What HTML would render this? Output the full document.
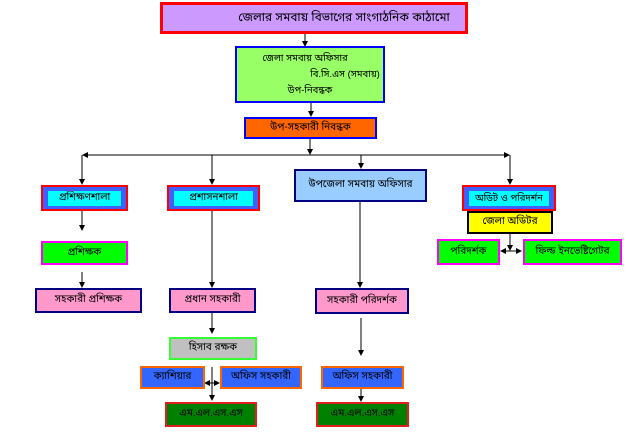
<!DOCTYPE html>
<html><head><meta charset="utf-8"><style>
body{margin:0;width:640px;height:448px;background:#fff;position:relative;overflow:hidden;font-family:"Liberation Sans","Noto Sans Bengali","Lohit Bengali",sans-serif;}
.b{position:absolute;box-sizing:border-box;display:flex;align-items:center;justify-content:center;font-size:10px;font-weight:bold;color:#000;white-space:nowrap;}
.dbl{background:#3f5fff;border:2px solid #ff0000;}
.dbl span{background:#00ffff;padding:1px 2px;display:block;width:calc(100% - 10px);text-align:center;box-sizing:border-box;overflow:hidden;}
svg{position:absolute;left:0;top:0;}
</style></head><body>
<svg width="640" height="448" viewBox="0 0 640 448">
<defs><marker id="a" markerWidth="6" markerHeight="6" refX="5" refY="3" orient="auto"><path d="M0,0L6,3L0,6z" fill="#000"/></marker></defs>
<g stroke="#000" stroke-width="1" fill="none">
<line x1="305" y1="34" x2="305" y2="46" marker-end="url(#a)"/>
<line x1="311" y1="103" x2="311" y2="116" marker-end="url(#a)"/>
<line x1="310" y1="139" x2="310" y2="154" marker-end="url(#a)"/>
<line x1="310" y1="155" x2="83" y2="155" marker-end="url(#a)"/>
<line x1="310" y1="155" x2="509" y2="155" marker-end="url(#a)"/>
<line x1="82" y1="155" x2="82" y2="184" marker-end="url(#a)"/>
<line x1="212" y1="155" x2="212" y2="184" marker-end="url(#a)"/>
<line x1="361" y1="155" x2="361" y2="168" marker-end="url(#a)"/>
<line x1="510" y1="155" x2="510" y2="184" marker-end="url(#a)"/>
<line x1="82" y1="211" x2="82" y2="230" marker-end="url(#a)"/>
<line x1="82" y1="272" x2="82" y2="287" marker-end="url(#a)"/>
<line x1="212" y1="211" x2="212" y2="287" marker-end="url(#a)"/>
<line x1="360" y1="202" x2="360" y2="287" marker-end="url(#a)"/>
<line x1="212" y1="313" x2="212" y2="333" marker-end="url(#a)"/>
<line x1="361" y1="318" x2="361" y2="355" marker-end="url(#a)"/>
<line x1="361" y1="389" x2="361" y2="401" marker-end="url(#a)"/>
<line x1="212" y1="367" x2="212" y2="400" marker-end="url(#a)"/>
<line x1="212" y1="383" x2="205" y2="383" marker-end="url(#a)"/>
<line x1="212" y1="383" x2="219" y2="383" marker-end="url(#a)"/>
<line x1="510" y1="234" x2="510" y2="250" marker-end="url(#a)"/>
<line x1="510" y1="251" x2="501" y2="251" marker-end="url(#a)"/>
<line x1="510" y1="251" x2="521" y2="251" marker-end="url(#a)"/>
</g></svg>
<div class="b" style="left:160px;top:2px;width:308px;height:32px;background:#cc99ff;border:3px solid #ff0000;font-size:12px;font-weight:normal;padding-left:60px;">জেলার সমবায় বিভাগের সাংগাঠনিক কাঠামো</div>
<div class="b" style="left:235px;top:46px;width:150px;height:57px;background:#99ff66;border:2px solid #0000ff;flex-direction:column;line-height:16px;font-size:9.5px;font-weight:normal;"><div style="margin-left:-10px">জেলা সমবায় অফিসার</div><div style="margin-left:70px">বি.সি.এস (সমবায়)</div><div style="margin-left:0px">উপ-নিবন্ধক</div></div>
<div class="b" style="left:244px;top:117px;width:133px;height:22px;background:#ff6600;border:2px solid #0000ff;font-weight:normal;">উপ-সহকারী নিবন্ধক</div>
<div class="b dbl" style="left:41px;top:185px;width:87px;height:26px;font-weight:normal;"><span>প্রশিক্ষণশালা</span></div>
<div class="b dbl" style="left:167px;top:185px;width:93px;height:26px;font-weight:normal;"><span>প্রশাসনশালা</span></div>
<div class="b" style="left:294px;top:169px;width:133px;height:33px;background:#99ccff;border:2px solid #000080;font-weight:normal;">উপজেলা সমবায় অফিসার</div>
<div class="b dbl" style="left:462px;top:185px;width:94px;height:26px;font-weight:normal;font-size:9.5px;"><span>অডিট ও পরিদর্শন</span></div>
<div class="b" style="left:467px;top:211px;width:86px;height:23px;background:#ffff00;border:2px solid #000;font-weight:normal;">জেলা অডিটর</div>
<div class="b" style="left:437px;top:239px;width:63px;height:26px;background:#00ff00;border:2px solid #ff00ff;font-weight:normal;">পরিদর্শক</div>
<div class="b" style="left:523px;top:239px;width:99px;height:26px;background:#00ff00;border:2px solid #ff00ff;font-weight:normal;">ফিল্ড ইনভেষ্টিগেটর</div>
<div class="b" style="left:41px;top:241px;width:87px;height:24px;background:#00ff00;border:2px solid #ff00ff;font-weight:normal;">প্রশিক্ষক</div>
<div class="b" style="left:35px;top:288px;width:107px;height:25px;background:#ff99cc;border:2px solid #000080;font-weight:normal;">সহকারী প্রশিক্ষক</div>
<div class="b" style="left:169px;top:288px;width:87px;height:25px;background:#ff99cc;border:2px solid #000080;font-weight:normal;">প্রধান সহকারী</div>
<div class="b" style="left:315px;top:288px;width:94px;height:26px;background:#ff99cc;border:2px solid #000080;font-weight:normal;">সহকারী পরিদর্শক</div>
<div class="b" style="left:169px;top:337px;width:88px;height:23px;background:#c0c0c0;border:2px solid #33ff33;font-weight:normal;">হিসাব রক্ষক</div>
<div class="b" style="left:140px;top:366px;width:65px;height:23px;background:#3366ff;border:2px solid #ff6600;font-weight:normal;">ক্যাশিয়ার</div>
<div class="b" style="left:220px;top:366px;width:82px;height:23px;background:#3366ff;border:2px solid #ff6600;font-weight:normal;">অফিস সহকারী</div>
<div class="b" style="left:321px;top:366px;width:83px;height:23px;background:#3366ff;border:2px solid #ff6600;font-weight:normal;">অফিস সহকারী</div>
<div class="b" style="left:165px;top:402px;width:92px;height:25px;background:#008000;border:2px solid #e02020;font-weight:normal;">এম.এল.এস.এস</div>
<div class="b" style="left:316px;top:402px;width:93px;height:25px;background:#008000;border:2px solid #e02020;font-weight:normal;">এম.এল.এস.এস</div>
</body></html>
